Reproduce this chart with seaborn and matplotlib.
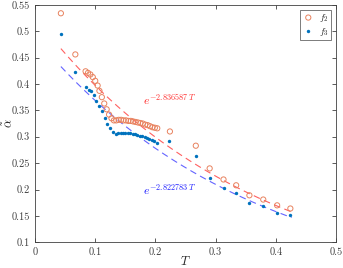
import numpy as np
import pandas as pd
import matplotlib
matplotlib.use("Agg")
import matplotlib.pyplot as plt
import seaborn as sns

# f2 (open circles)
T_f2 = [0.043, 0.067, 0.084, 0.088, 0.092, 0.096, 0.100, 0.104, 0.107, 0.111, 0.115,
        0.119, 0.123, 0.127, 0.131, 0.135, 0.139, 0.143, 0.147, 0.151, 0.155, 0.159,
        0.163, 0.167, 0.171, 0.175, 0.179, 0.183, 0.187, 0.191, 0.195, 0.199, 0.203,
        0.224, 0.267, 0.290, 0.313, 0.334, 0.356, 0.379, 0.402, 0.424]
a_f2 = [0.534, 0.456, 0.424, 0.421, 0.418, 0.413, 0.406, 0.397, 0.387, 0.375, 0.363,
        0.352, 0.342, 0.335, 0.331, 0.331, 0.332, 0.332, 0.331, 0.331, 0.330, 0.330,
        0.329, 0.328, 0.327, 0.326, 0.325, 0.323, 0.322, 0.320, 0.318, 0.317, 0.316,
        0.310, 0.283, 0.240, 0.219, 0.208, 0.189, 0.181, 0.170, 0.164]

# f3 (dots)
T_f3 = [0.043, 0.067, 0.084, 0.089, 0.093, 0.098, 0.102, 0.106, 0.111, 0.116, 0.120,
        0.125, 0.130, 0.134, 0.138, 0.142, 0.146, 0.150, 0.154, 0.158, 0.162, 0.166,
        0.170, 0.174, 0.178, 0.182, 0.186, 0.190, 0.194, 0.198, 0.202,
        0.222, 0.267, 0.290, 0.313, 0.334, 0.356, 0.379, 0.402, 0.424]
a_f3 = [0.495, 0.423, 0.394, 0.389, 0.386, 0.379, 0.368, 0.358, 0.348, 0.336, 0.324,
        0.317, 0.309, 0.306, 0.307, 0.307, 0.308, 0.308, 0.307, 0.307, 0.306, 0.305,
        0.304, 0.302, 0.301, 0.299, 0.297, 0.295, 0.293, 0.291, 0.289,
        0.291, 0.263, 0.222, 0.203, 0.193, 0.175, 0.168, 0.156, 0.152]

# exponential fits  a = A * exp(-k T)
amp_f2, rate_f2 = 0.5276, 2.836587
amp_f3, rate_f3 = 0.4889, 2.822783
fit_range = (0.043, 0.426)

orange = "#E8825E"
blue = "#0072BD"
red_fit = "#FF6060"
blue_fit = "#6464FF"

sns.set_style("ticks")
plt.rcParams["font.family"] = ["serif"]
plt.rcParams["font.serif"] = ["cmr10", "DejaVu Serif"]
plt.rcParams["mathtext.fontset"] = "cm"
plt.rcParams["axes.formatter.use_mathtext"] = True
plt.rcParams["xtick.direction"] = "in"
plt.rcParams["ytick.direction"] = "in"

fig = plt.figure(figsize=(3.43, 2.68), dpi=100)
ax = fig.add_axes([0.102, 0.096, 0.878, 0.886])

df2 = pd.DataFrame({"T": T_f2, "a": a_f2})
df3 = pd.DataFrame({"T": T_f3, "a": a_f3})

t_fit = np.linspace(fit_range[0], fit_range[1], 200)
sns.lineplot(x=t_fit, y=amp_f2 * np.exp(-rate_f2 * t_fit), ax=ax, color=red_fit,
             lw=0.8, linestyle=(0, (6, 4)), zorder=1)
sns.lineplot(x=t_fit, y=amp_f3 * np.exp(-rate_f3 * t_fit), ax=ax, color=blue_fit,
             lw=0.8, linestyle=(0, (6, 4)), zorder=1)

sns.scatterplot(data=df2, x="T", y="a", ax=ax, marker="o", s=14,
                facecolor="none", edgecolor=orange, linewidth=0.7,
                label=r"$f_2$", zorder=3)
sns.scatterplot(data=df3, x="T", y="a", ax=ax, marker="o", s=6,
                color=blue, edgecolor=blue, linewidth=0,
                label=r"$f_3$", zorder=4)

ax.text(0.179, 0.368, r"$e^{-2.836587\,T}$", color="#FF3030", fontsize=8.5,
        va="center", ha="left")
ax.text(0.179, 0.199, r"$e^{-2.822783\,T}$", color="#2020FF", fontsize=8.5,
        va="center", ha="left")

ax.set_xlim(0, 0.5)
ax.set_ylim(0.1, 0.55)
ax.set_xticks(np.arange(0, 0.51, 0.1))
ax.set_yticks(np.arange(0.1, 0.551, 0.05))
ax.set_xticklabels(["0", "0.1", "0.2", "0.3", "0.4", "0.5"])
ax.set_yticklabels(["0.1", "0.15", "0.2", "0.25", "0.3", "0.35", "0.4", "0.45",
                    "0.5", "0.55"])
ax.tick_params(labelsize=7.5, colors="#404040", length=3, width=0.6,
               top=True, right=True)
for sp in ax.spines.values():
    sp.set_visible(True)
    sp.set_color("#404040")
    sp.set_linewidth(0.6)

ax.set_xlabel(r"$T$", fontsize=9, va="center")
ax.set_ylabel(r"$\tilde{\alpha}$", fontsize=9, va="center")
ax.xaxis.set_label_coords(0.5, -0.08)
ax.yaxis.set_label_coords(-0.088, 0.5)

leg = ax.legend(loc="upper right", fontsize=7, frameon=True, fancybox=False,
                handletextpad=0.5, borderpad=0.25, labelspacing=0.15,
                handlelength=1.2, borderaxespad=0.5)
leg.get_frame().set_edgecolor("#404040")
leg.get_frame().set_linewidth(0.6)

fig.savefig("out.png", dpi=100)
